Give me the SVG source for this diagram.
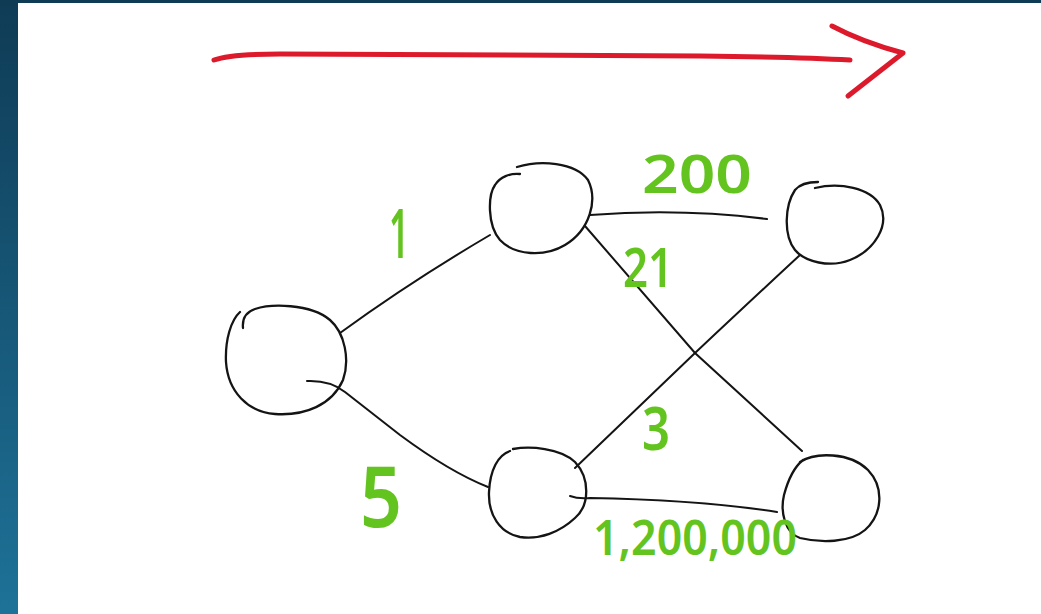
<svg xmlns="http://www.w3.org/2000/svg" width="1041" height="614" viewBox="0 0 1041 614">
  <defs>
    <linearGradient id="frame" x1="0" y1="0" x2="0" y2="1">
      <stop offset="0" stop-color="#0f3b55"/>
      <stop offset="1" stop-color="#1e7298"/>
    </linearGradient>
    <style>
      .node { fill: none; stroke: #141414; stroke-width: 2.3; stroke-linecap: round; stroke-linejoin: round; }
      .edge { fill: none; stroke: #141414; stroke-width: 2; stroke-linecap: round; }
      .arrow { fill: none; stroke: #dd1a2c; stroke-width: 5; stroke-linecap: round; stroke-linejoin: round; }
      .w { font-family: "Noto Sans", "DejaVu Sans", sans-serif; fill: #63c41f; font-weight: 600; }
    </style>
  </defs>

  <!-- frame and canvas -->
  <rect x="0" y="0" width="1041" height="614" fill="url(#frame)"/>
  <rect x="18" y="3" width="1023" height="611" fill="#ffffff"/>

  <!-- direction arrow -->
  <g id="direction">
    <path class="arrow" d="M214,60 Q230,54 280,54 L700,56 Q800,57 850,60"/>
    <path class="arrow" d="M832,26 Q862,42 903,53 L848,96"/>
  </g>

  <!-- connectors -->
  <g id="connectors">
    <path class="edge" d="M340,333 Q410,282 490,235"/>
    <path class="edge" d="M307,381 Q330,380 345,392 L400,435 Q450,472 488,487"/>
    <path class="edge" d="M590,215 Q680,208 767,219"/>
    <path class="edge" d="M585,226 L695,353 L802,451"/>
    <path class="edge" d="M575,468 L695,353 Q760,292 800,255"/>
    <path class="edge" d="M570,496 Q578,499 590,498 Q700,500 777,512"/>
  </g>

  <!-- nodes -->
  <g id="node-a">
    <path class="node" d="M243,328 C242,318 246,312 255,309 C270,304 310,303 330,320 C345,333 350,360 343,380 C332,405 305,416 275,414 C248,412 228,392 226,362 C225,340 231,320 240,312"/>
  </g>
  <g id="node-b">
    <path class="node" d="M517,167 C540,160 575,162 588,180 C598,200 590,230 565,245 C545,257 515,256 500,240 C487,225 488,195 495,185 C500,177 510,173 520,174"/>
  </g>
  <g id="node-c">
    <path class="node" d="M513,449 C530,446 560,448 575,462 C590,478 590,505 575,518 C560,532 540,540 520,537 C500,533 488,515 489,492 C490,470 498,455 510,451"/>
  </g>
  <g id="node-d">
    <path class="node" d="M815,188 C840,182 870,188 880,205 C890,225 875,250 850,260 C830,268 805,262 795,250 C783,235 785,205 795,190 C800,184 810,182 818,182"/>
  </g>
  <g id="node-e">
    <path class="node" d="M800,462 C815,452 850,452 868,470 C885,488 882,515 865,530 C850,543 820,543 800,538 C785,533 780,512 784,495 C788,480 793,468 803,460"/>
  </g>

  <!-- edge weights -->
  <g id="weights">
    <text class="w" x="399" y="258" font-size="68" text-anchor="middle" textLength="20" lengthAdjust="spacingAndGlyphs">1</text>
    <text class="w" x="360" y="527" font-size="84" textLength="42" lengthAdjust="spacingAndGlyphs">5</text>
    <text class="w" x="642" y="193" font-size="53" textLength="110" lengthAdjust="spacingAndGlyphs">200</text>
    <text class="w" x="623" y="287" font-size="55" textLength="50" lengthAdjust="spacingAndGlyphs">21</text>
    <text class="w" x="642" y="450" font-size="60" textLength="28" lengthAdjust="spacingAndGlyphs">3</text>
    <text class="w" x="593" y="555" font-size="49" textLength="204" lengthAdjust="spacingAndGlyphs">1,200,000</text>
  </g>
</svg>
